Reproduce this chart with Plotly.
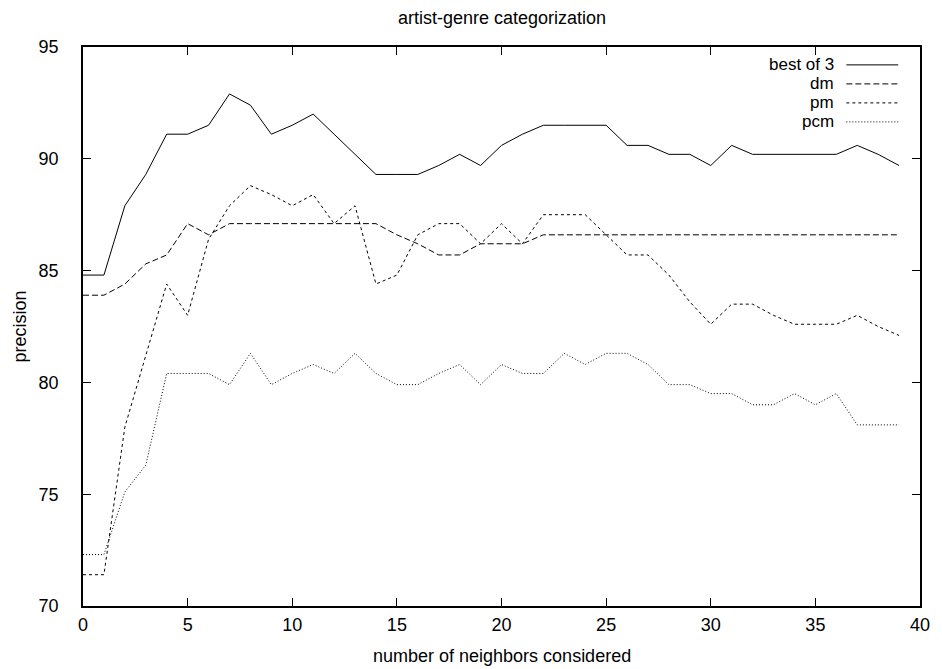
import plotly.graph_objects as go

neighbors = list(range(40))

best_of_3 = [84.8, 84.8, 87.9, 89.3, 91.1, 91.1, 91.5, 92.9, 92.4, 91.1,
             91.5, 92.0, 91.1, 90.2, 89.3, 89.3, 89.3, 89.7, 90.2, 89.7,
             90.6, 91.1, 91.5, 91.5, 91.5, 91.5, 90.6, 90.6, 90.2, 90.2,
             89.7, 90.6, 90.2, 90.2, 90.2, 90.2, 90.2, 90.6, 90.2, 89.7]

dm = [83.9, 83.9, 84.4, 85.3, 85.7, 87.1, 86.6, 87.1, 87.1, 87.1,
      87.1, 87.1, 87.1, 87.1, 87.1, 86.6, 86.2, 85.7, 85.7, 86.2,
      86.2, 86.2, 86.6, 86.6, 86.6, 86.6, 86.6, 86.6, 86.6, 86.6,
      86.6, 86.6, 86.6, 86.6, 86.6, 86.6, 86.6, 86.6, 86.6, 86.6]

pm = [71.4, 71.4, 78.0, 81.2, 84.4, 83.0, 86.4, 87.9, 88.8, 88.4,
      87.9, 88.4, 87.1, 87.9, 84.4, 84.8, 86.6, 87.1, 87.1, 86.2,
      87.1, 86.2, 87.5, 87.5, 87.5, 86.6, 85.7, 85.7, 84.8, 83.6,
      82.6, 83.5, 83.5, 83.0, 82.6, 82.6, 82.6, 83.0, 82.5, 82.1]

pcm = [72.3, 72.3, 75.1, 76.3, 80.4, 80.4, 80.4, 79.9, 81.3, 79.9,
       80.4, 80.8, 80.4, 81.3, 80.4, 79.9, 79.9, 80.4, 80.8, 79.9,
       80.8, 80.4, 80.4, 81.3, 80.8, 81.3, 81.3, 80.8, 79.9, 79.9,
       79.5, 79.5, 79.0, 79.0, 79.5, 79.0, 79.5, 78.1, 78.1, 78.1]

series_names = ["best of 3", "dm", "pm", "pcm"]
series_values = [best_of_3, dm, pm, pcm]
series_dash = ["solid", "6px,3px", "3px,3px", "1px,2px"]

x_ticks = [0, 5, 10, 15, 20, 25, 30, 35, 40]
y_ticks = [70, 75, 80, 85, 90, 95]

FONT = "Liberation Sans, Arial, sans-serif"
FS = 18
FS_KEY = 17

fig = go.Figure()
for name, vals, dash in zip(series_names, series_values, series_dash):
    fig.add_trace(go.Scatter(x=neighbors, y=vals, mode="lines", name=name,
                             line=dict(color="black", width=1, dash=dash),
                             showlegend=False))

# gnuplot-style key: text right-aligned, line sample to the right
key_y = [0.968, 0.934, 0.900, 0.866]
for name, dash, ky in zip(series_names, series_dash, key_y):
    fig.add_annotation(x=0.898, y=ky, xref="paper", yref="paper", text=name,
                       showarrow=False, xanchor="right", yanchor="middle",
                       height=17, borderpad=0, valign="middle",
                       font=dict(family=FONT, size=FS_KEY, color="black"))
    fig.add_shape(type="line", xref="paper", yref="paper",
                  x0=0.912, x1=0.974, y0=ky, y1=ky,
                  line=dict(color="black", width=1, dash=dash))

# axis titles and chart title
fig.add_annotation(x=0.5, y=0, xref="paper", yref="paper", yshift=-50,
                   text="number of neighbors considered", showarrow=False,
                   xanchor="center", yanchor="middle",
                   font=dict(family=FONT, size=FS, color="black"))
fig.add_annotation(x=0, y=0.5, xref="paper", yref="paper", xshift=-64,
                   text="precision", showarrow=False, textangle=-90,
                   xanchor="center", yanchor="middle",
                   font=dict(family=FONT, size=FS, color="black"))
fig.add_annotation(x=0.5, y=1, xref="paper", yref="paper", yshift=29,
                   text="artist-genre categorization", showarrow=False,
                   xanchor="center", yanchor="middle",
                   font=dict(family=FONT, size=FS, color="black"))

axis_common = dict(showline=True, linecolor="black", linewidth=1.5, mirror="allticks",
                   ticks="inside", ticklen=8, tickcolor="black", tickwidth=1,
                   showgrid=False, zeroline=False,
                   tickfont=dict(family=FONT, size=FS, color="black"))

fig.update_xaxes(range=[0, 40], tickvals=x_ticks, ticklabelstandoff=2, **axis_common)
fig.update_yaxes(range=[70, 95], tickvals=y_ticks, ticklabelstandoff=19, **axis_common)

fig.update_layout(
    width=934, height=661,
    margin=dict(l=75, r=15, t=39, b=63),
    paper_bgcolor="white", plot_bgcolor="white",
)

fig.write_html("out.html")
